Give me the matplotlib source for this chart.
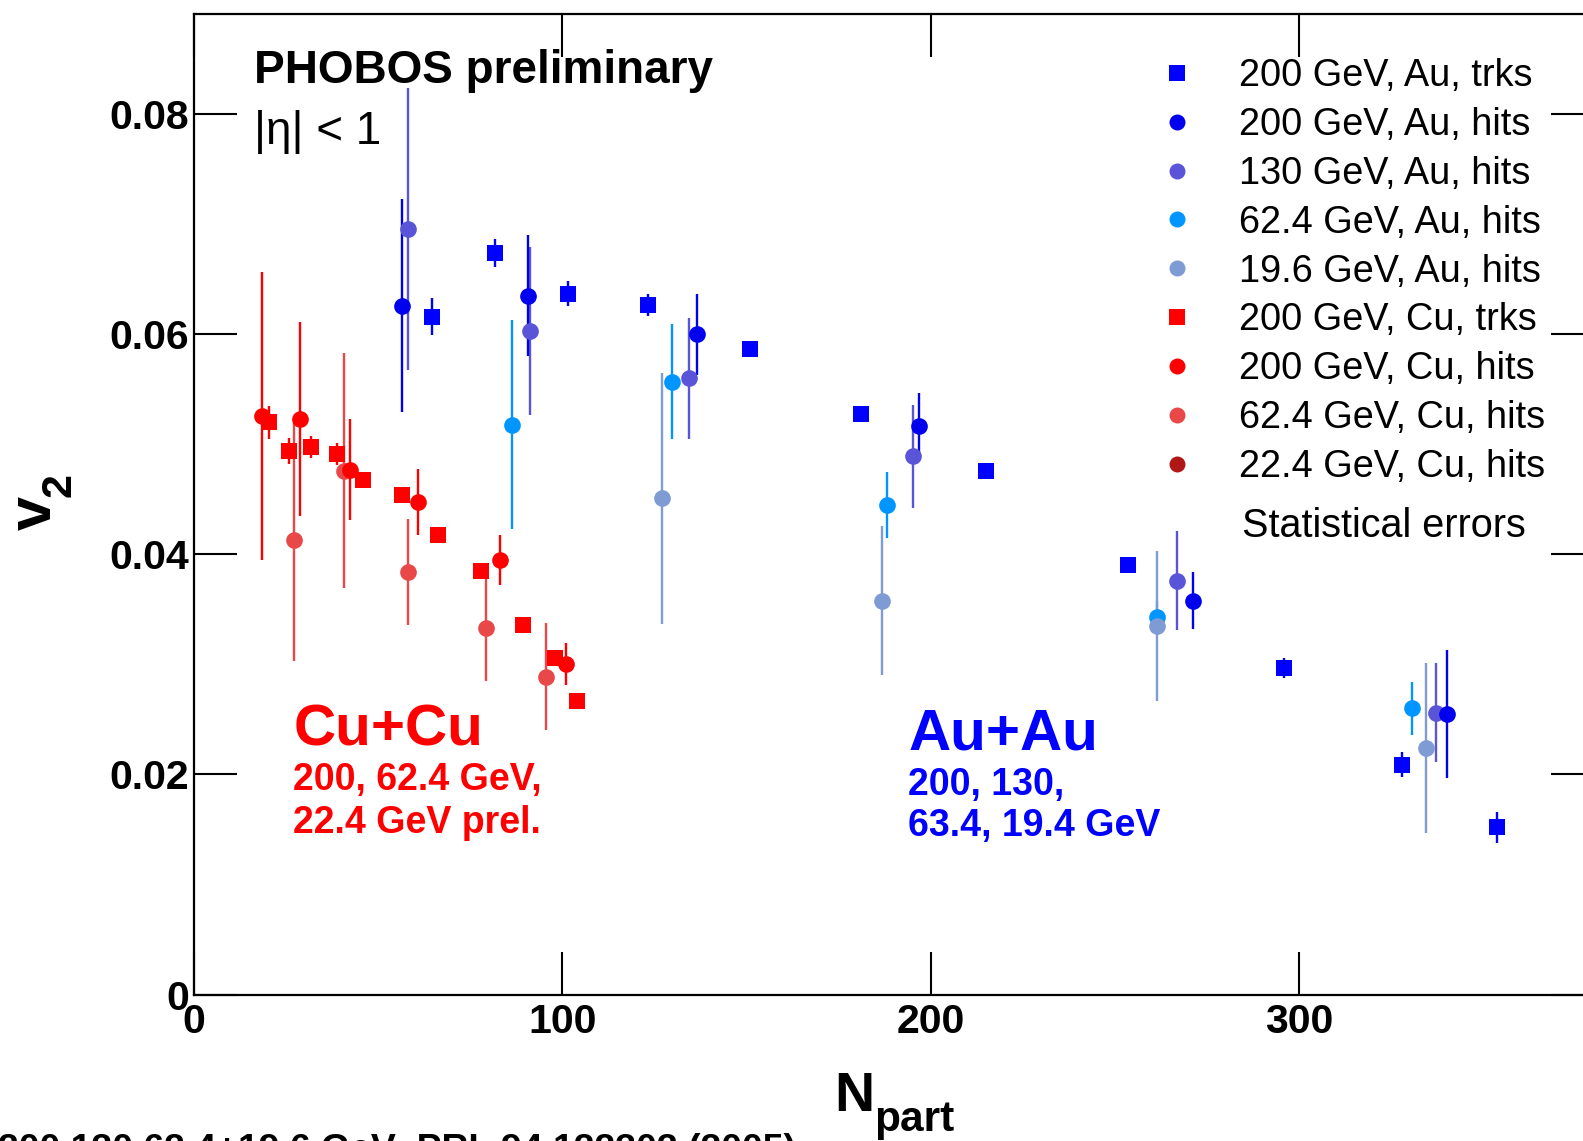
import matplotlib
matplotlib.use("Agg")
import matplotlib.pyplot as plt
from matplotlib.lines import Line2D

plt.rcParams['font.family'] = ['Liberation Sans', 'DejaVu Sans']

# ---- data ----
au200_trk_x = [64.6, 81.7, 101.5, 123.2, 150.9, 181.2, 215.0, 253.6, 295.9, 328.0, 353.6]
au200_trk_y = [0.0616, 0.0674, 0.0637, 0.0627, 0.0587, 0.0528, 0.0476, 0.0390, 0.0297, 0.0209, 0.0152]
au200_trk_e = [0.0017, 0.0013, 0.0011, 0.0010, 0.0006, 0.0006, 0.0006, 0.0006, 0.0009, 0.0011, 0.0014]

au200_hit_x = [56.4, 90.8, 136.5, 196.8, 271.2, 340.0]
au200_hit_y = [0.0626, 0.0635, 0.0600, 0.0517, 0.0358, 0.0255]
au200_hit_e = [0.0097, 0.0055, 0.0037, 0.0030, 0.0026, 0.0058]

au130_hit_x = [58.2, 91.2, 134.3, 195.1, 266.9, 337.0]
au130_hit_y = [0.0696, 0.0603, 0.0560, 0.0489, 0.0376, 0.0256]
au130_hit_e = [0.0128, 0.0076, 0.0055, 0.0047, 0.0045, 0.0045]

au62_hit_x = [86.4, 129.9, 188.0, 261.5, 330.5]
au62_hit_y = [0.0518, 0.0557, 0.0445, 0.0343, 0.0260]
au62_hit_e = [0.0095, 0.0052, 0.0030, 0.0015, 0.0024]

au19_hit_x = [127.1, 186.9, 261.5, 334.3]
au19_hit_y = [0.0451, 0.0358, 0.0335, 0.0224]
au19_hit_e = [0.0114, 0.0068, 0.0068, 0.0077]

cu200_trk_x = [20.4, 25.9, 31.8, 38.8, 46.0, 56.4, 66.2, 77.9, 89.4, 98.0, 104.1]
cu200_trk_y = [0.0520, 0.0494, 0.0498, 0.0491, 0.0468, 0.0454, 0.0418, 0.0385, 0.0336, 0.0306, 0.0267]
cu200_trk_e = [0.0015, 0.0012, 0.0010, 0.0010, 0.0006, 0.0006, 0.0006, 0.0006, 0.0006, 0.0006, 0.0006]

cu200_hit_x = [18.4, 28.8, 42.4, 60.9, 83.1, 101.0]
cu200_hit_y = [0.0526, 0.0523, 0.0477, 0.0448, 0.0395, 0.0300]
cu200_hit_e = [0.0131, 0.0088, 0.0046, 0.0030, 0.0023, 0.0019]

cu62_hit_x = [27.3, 40.8, 58.0, 79.4, 95.6]
cu62_hit_y = [0.0413, 0.0476, 0.0384, 0.0333, 0.0289]
cu62_hit_e = [0.0110, 0.0107, 0.0048, 0.0048, 0.0049]

cu22_hit_x = []
cu22_hit_y = []
cu22_hit_e = []

xticks = [0, 100, 200, 300]
xticklabels = ['0', '100', '200', '300']
yticks = [0, 0.02, 0.04, 0.06, 0.08]
yticklabels = ['0', '0.02', '0.04', '0.06', '0.08']

# (label, x, y, err, marker, colour) in legend order
series = [
    ("200 GeV, Au, trks", au200_trk_x, au200_trk_y, au200_trk_e, 's', '#0000ff'),
    ("200 GeV, Au, hits", au200_hit_x, au200_hit_y, au200_hit_e, 'o', '#0000ee'),
    ("130 GeV, Au, hits", au130_hit_x, au130_hit_y, au130_hit_e, 'o', '#5a55d8'),
    ("62.4 GeV, Au, hits", au62_hit_x, au62_hit_y, au62_hit_e, 'o', '#0095ff'),
    ("19.6 GeV, Au, hits", au19_hit_x, au19_hit_y, au19_hit_e, 'o', '#7f9bd4'),
    ("200 GeV, Cu, trks", cu200_trk_x, cu200_trk_y, cu200_trk_e, 's', '#ff0000'),
    ("200 GeV, Cu, hits", cu200_hit_x, cu200_hit_y, cu200_hit_e, 'o', '#ff0000'),
    ("62.4 GeV, Cu, hits", cu62_hit_x, cu62_hit_y, cu62_hit_e, 'o', '#e84848'),
    ("22.4 GeV, Cu, hits", cu22_hit_x, cu22_hit_y, cu22_hit_e, 'o', '#b01818'),
]
draw_order = [5, 7, 6, 8, 0, 2, 1, 3, 4]

W, H = 1583, 1141
fig = plt.figure(figsize=(W / 100, H / 100), dpi=100)
# axes frame in pixels; right spine falls just outside the picture
left_px, right_px, top_px, bot_px = 193.8, 1594.0, 14.1, 994.5
ax = fig.add_axes([left_px / W, (H - bot_px) / H,
                   (right_px - left_px) / W, (bot_px - top_px) / H])
ax.set_xlim(0, 380)
ax.set_ylim(0, 0.0891)

for i in draw_order:
    lab, x, y, e, m, c = series[i]
    if len(x) == 0:
        continue
    ax.errorbar(x, y, yerr=e, fmt=m, color=c, ms=12, mec=c, mew=0,
                elinewidth=1.7, capsize=0)

handles = [Line2D([], [], ls='none', marker=m, color=c, mec=c, mew=0, ms=11.5)
           for (_, _, _, _, m, c) in series]
labels = [s[0] for s in series]
ax.legend(handles, labels, loc='upper left',
          bbox_to_anchor=(1158.5 / W, 1 - 58 / H), bbox_transform=fig.transFigure,
          frameon=False, fontsize=27.3, handlelength=1.0, handletextpad=1.12,
          labelspacing=0.34, borderpad=0, borderaxespad=0)
ax.text(284.4, 0.0426, "Statistical errors", fontsize=28.5, va='center', ha='left')

ax.set_xticks(xticks)
ax.set_xticklabels(xticklabels, fontweight='bold')
ax.set_yticks(yticks)
ax.set_yticklabels(yticklabels, fontweight='bold')
ax.tick_params(direction='in', length=31, width=1.5, top=True, right=True,
               labelsize=29.5, colors='black')
ax.tick_params(axis='x', pad=6)
ax.tick_params(axis='y', pad=3.6)
for sp in ax.spines.values():
    sp.set_linewidth(1.6)

# axis titles, ROOT style with a low subscript
fig.text(834 / W, 1 - 1110.6 / H, "N", fontsize=40, fontweight='bold', va='baseline')
fig.text(874 / W, 1 - 1131 / H, "part", fontsize=30.5, fontweight='bold', va='baseline')
fig.text(64 / W, 1 - 530 / H, "v", fontsize=44, fontweight='bold', rotation=90,
         ha='right', va='bottom')
fig.text(80 / W, 1 - 497 / H, "2", fontsize=31, fontweight='bold', rotation=90,
         ha='right', va='bottom')

ax.text(16.4, 0.0828, "PHOBOS preliminary", fontsize=33, fontweight='bold', va='baseline')
ax.text(16.4, 0.0773, "|\u03b7| < 1", fontsize=33, va='baseline')

ax.text(27.0, 0.02267, "Cu+Cu", fontsize=42, fontweight='bold', color='#ff0000', va='baseline')
ax.text(27.0, 0.01859, "200, 62.4 GeV,", fontsize=27, fontweight='bold', color='#ff0000', va='baseline')
ax.text(27.0, 0.01465, "22.4 GeV prel.", fontsize=27, fontweight='bold', color='#ff0000', va='baseline')

ax.text(193.9, 0.0223, "Au+Au", fontsize=42, fontweight='bold', color='#0000ff', va='baseline')
ax.text(193.9, 0.01817, "200, 130,", fontsize=27, fontweight='bold', color='#0000ff', va='baseline')
ax.text(193.9, 0.0144, "63.4, 19.4 GeV", fontsize=27, fontweight='bold', color='#0000ff', va='baseline')

fig.text(-2 / W, (H - 1159.5) / H, "200,130,62.4+19.6 GeV: PRL 94 122303 (2005)",
         fontsize=26.9, fontweight='bold', va='baseline')

fig.savefig("out.png", dpi=100)
